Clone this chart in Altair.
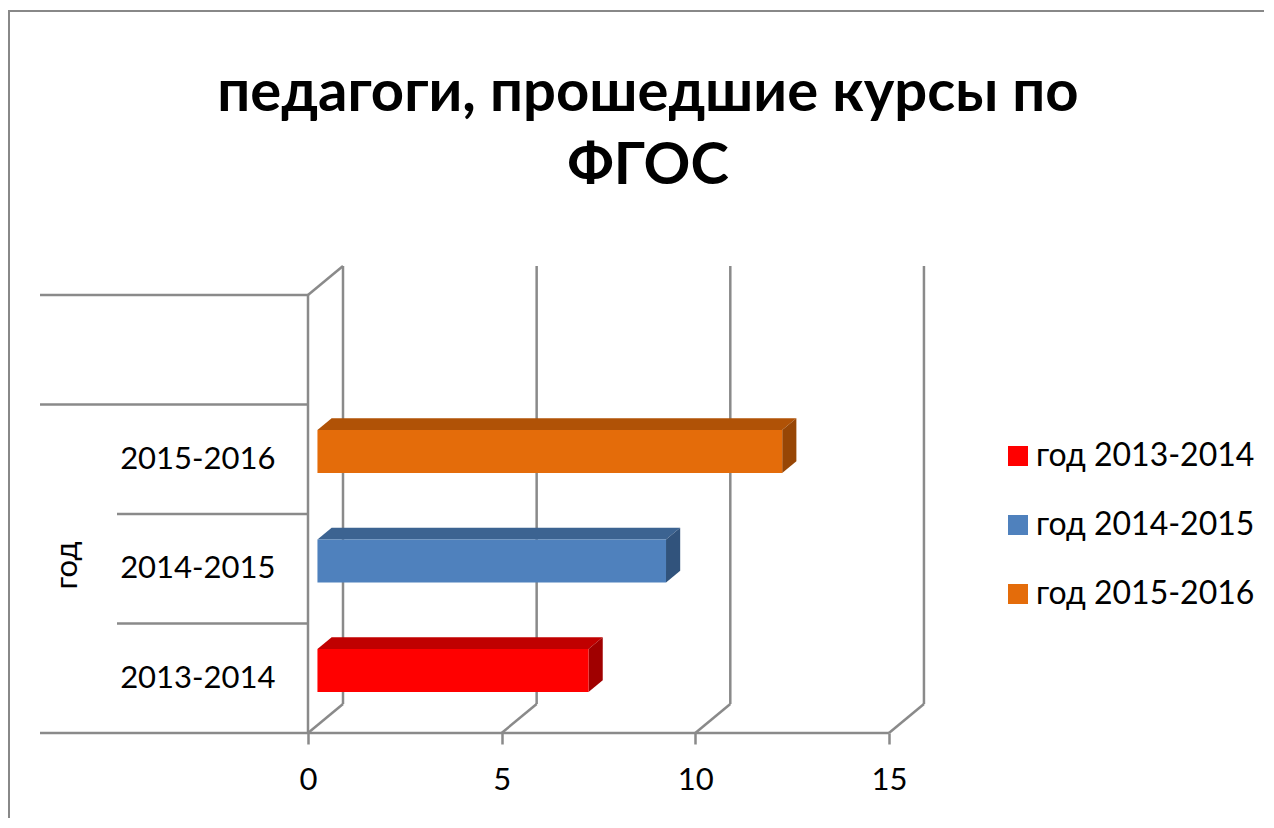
import altair as alt
import pandas as pd

# ---------------- data ----------------
categories = ["2013-2014", "2014-2015", "2015-2016"]
series = ["год 2013-2014", "год 2014-2015", "год 2015-2016"]
values = [7, 9, 12]
x_ticks = [0, 5, 10, 15]
title_lines = ["педагоги, прошедшие курсы по", "ФГОС"]
axis_title = "год"

# ---------------- styles ----------------
front_colors = ["#FF0000", "#4F81BD", "#E46C0A"]
top_colors = ["#C00000", "#3C6391", "#B05206"]
side_colors = ["#A00000", "#31537C", "#974605"]
GRID = "#8A8A8A"
FONT = "Lato"

# ---------------- layout ----------------
W, H = 890, 473            # plot area
PX_UNIT = 38.73            # pixels per x unit
BAND = 109.5               # pixels per category band
X0_PX = 268                # pixel of x = 0 inside the plot
XMIN = -X0_PX / PX_UNIT
XMAX = (W - X0_PX) / PX_UNIT
YMAX = H / BAND
DX = 35 / PX_UNIT          # 3D depth, x
DY = 29 / BAND             # 3D depth, y
F1, F2 = 0.27, 0.675       # bar front / back depth fractions
BH = 43 / BAND             # bar thickness
NB = len(categories) + 1   # bands incl. empty top band
INNER = -191 / PX_UNIT

xs = alt.Scale(domain=[XMIN, XMAX], nice=False, zero=False)
ys = alt.Scale(domain=[0, YMAX], nice=False, zero=False)

df = pd.DataFrame({
    "cat": categories, "series": series, "value": values,
    "idx": list(range(len(categories))),
    "top": top_colors, "side": side_colors,
})

# ---------------- frame / walls ----------------
segs = []
last = x_ticks[-1]
for t in x_ticks:
    segs.append(dict(x=t + DX, x2=t + DX, y=DY, y2=NB + DY))   # back wall grid
    segs.append(dict(x=t, x2=t + DX, y=0, y2=DY))               # floor diagonals
segs.append(dict(x=0, x2=0, y=0, y2=NB))                        # left wall front edge
segs.append(dict(x=0, x2=DX, y=NB, y2=NB + DY))                 # left wall top diagonal
segs.append(dict(x=XMIN, x2=last, y=0, y2=0))                   # front floor line
for b in range(1, NB + 1):
    start = INNER if 0 < b < NB - 1 else XMIN
    segs.append(dict(x=start, x2=0, y=b, y2=b))                 # category separators
seg_df = pd.DataFrame(segs)

frame = alt.Chart(seg_df).mark_rule(color=GRID, strokeWidth=2.5).encode(
    x=alt.X("x:Q", scale=xs, axis=alt.Axis(
        values=x_ticks, domain=False, grid=False, title=None,
        tickSize=11, tickWidth=2.5, tickColor=GRID,
        labelFont=FONT, labelFontSize=31, labelColor="#000000",
        labelPadding=21)),
    x2="x2:Q",
    y=alt.Y("y:Q", scale=ys, axis=alt.Axis(
        values=[i + 0.5 for i in range(len(categories))],
        labelExpr="[" + ",".join("'%s'" % c for c in categories) + "][floor(datum.value)]",
        domain=False, ticks=False, tickSize=0, grid=False,
        labelFont=FONT, labelFontSize=31, labelColor="#000000",
        labelAlign="right", labelBaseline="middle", labelPadding=-235,
        title=axis_title, titleFont=FONT, titleFontSize=31, titleFontWeight="normal",
        titleColor="#000000", titleAngle=270, titleX=27, titleY=305,
        titleBaseline="middle", titleAlign="center")),
    y2="y2:Q",
)

# ---------------- bars (3D) ----------------
base = alt.Chart(df)

top_face = base.transform_calculate(fa=str(F1), fb=str(F2)).transform_fold(
    ["fa", "fb"], as_=["k", "f"]
).transform_calculate(
    ty=f"datum.idx + 0.5 + {BH/2} + datum.f * {DY}",
    tx=f"datum.f * {DX}",
    tx2=f"datum.value + datum.f * {DX}",
).mark_area(orient="horizontal").encode(
    y=alt.Y("ty:Q", scale=ys, axis=None),
    x=alt.X("tx:Q", scale=xs, axis=None),
    x2="tx2:Q",
    color=alt.Color("top:N", scale=None),
)

side_face = base.transform_calculate(fa=str(F1), fb=str(F2)).transform_fold(
    ["fa", "fb"], as_=["k", "f"]
).transform_calculate(
    sx=f"datum.value + datum.f * {DX}",
    sy=f"datum.idx + 0.5 - {BH/2} + datum.f * {DY}",
    sy2=f"datum.idx + 0.5 + {BH/2} + datum.f * {DY}",
).mark_area(orient="vertical").encode(
    x=alt.X("sx:Q", scale=xs, axis=None),
    y=alt.Y("sy:Q", scale=ys, axis=None),
    y2="sy2:Q",
    color=alt.Color("side:N", scale=None),
)

front_face = base.transform_calculate(
    fx=f"{F1 * DX}",
    fx2=f"datum.value + {F1 * DX}",
    fy=f"datum.idx + 0.5 - {BH/2} + {F1 * DY}",
    fy2=f"datum.idx + 0.5 + {BH/2} + {F1 * DY}",
).mark_rect().encode(
    x=alt.X("fx:Q", scale=xs, axis=None),
    x2="fx2:Q",
    y=alt.Y("fy:Q", scale=ys, axis=None),
    y2="fy2:Q",
    color=alt.Color("series:N", scale=alt.Scale(domain=series, range=front_colors),
                    legend=alt.Legend(orient="none", legendX=962, legendY=180,
                                      title=None, symbolType="square", symbolSize=400,
                                      symbolStrokeWidth=0, labelFont=FONT,
                                      labelFontSize=32, labelColor="#000000",
                                      labelOffset=2, rowPadding=37, labelLimit=0,
                                      padding=0)),
    tooltip=["cat:N", "value:Q"],
)

# ---------------- outer border ----------------
border_df = pd.DataFrame({"k": [0]})
border_top = alt.Chart(border_df).mark_rule(color="#888888", strokeWidth=2).encode(
    x=alt.value(-32), x2=alt.value(W + 334), y=alt.value(-249))
border_left = alt.Chart(border_df).mark_rule(color="#888888", strokeWidth=2).encode(
    x=alt.value(-31), y=alt.value(-249), y2=alt.value(H + 85))

chart = alt.layer(frame, top_face, side_face, front_face, border_top, border_left).resolve_axis(
    x="independent", y="independent"
).properties(
    width=W, height=H,
    autosize=alt.AutoSizeParams(type="none"),
    padding={"left": 32, "top": 252, "right": 334, "bottom": 85},
    background="white",
    title=alt.Title(title_lines, font=FONT, fontSize=58, fontWeight="bold",
                    color="#000000", anchor="middle", dx=163, dy=186,
                    lineHeight=73, offset=0),
).configure_view(stroke=None)

chart.save("out.html", embed_options={"renderer": "svg", "actions": False})
